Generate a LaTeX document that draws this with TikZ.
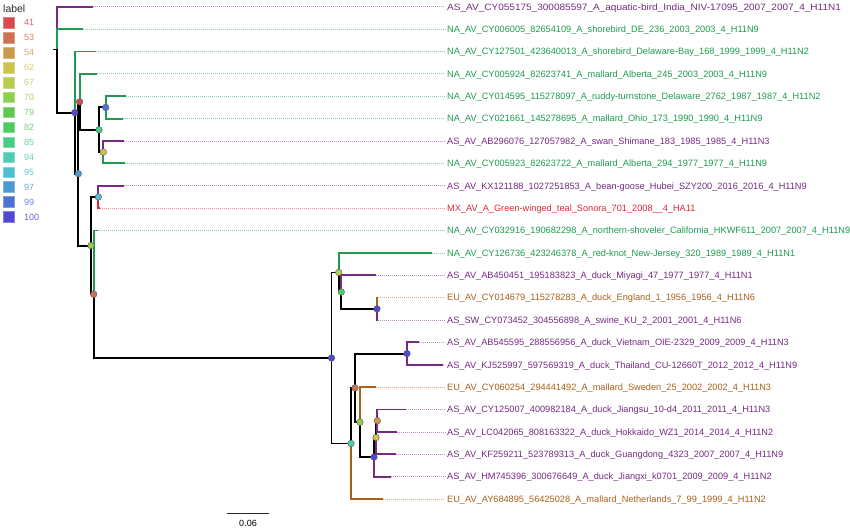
\documentclass[tikz,border=0pt]{standalone}
\usepackage{fontspec}
\setmainfont{Liberation Sans}
\definecolor{cpur}{RGB}{118,42,131}
\definecolor{cgrn}{RGB}{30,155,80}
\definecolor{cbrn}{RGB}{166,97,26}
\definecolor{cred}{RGB}{222,40,52}
\definecolor{c41}{RGB}{217,72,74}
\definecolor{c53}{RGB}{207,112,80}
\definecolor{c54}{RGB}{203,154,74}
\definecolor{c62}{RGB}{204,197,74}
\definecolor{c67}{RGB}{181,204,77}
\definecolor{c70}{RGB}{142,207,76}
\definecolor{c79}{RGB}{93,202,76}
\definecolor{c82}{RGB}{76,203,94}
\definecolor{c85}{RGB}{75,203,136}
\definecolor{c94}{RGB}{77,205,179}
\definecolor{c95}{RGB}{78,191,208}
\definecolor{c97}{RGB}{76,154,211}
\definecolor{c99}{RGB}{76,114,211}
\definecolor{c100}{RGB}{80,73,207}
\newcommand\tipline[6]{%
  \coordinate (#1) at (#3,#4);
  \node[lbl,text=#5] (t#1) at (447,#4) {#6};
  \draw[dotl,#5] (#1) -- (t#1.west);
  \draw[br,#5] (#2) |- (#1);
}
\begin{document}
\begin{tikzpicture}[x=1pt,y=-1pt,
  br/.style={line width=1.85pt},
  dotl/.style={line width=0.75pt,dash pattern=on 0.9pt off 1.1pt,draw opacity=0.5,shorten >=2pt},
  lbl/.style={anchor=west,inner sep=0pt,font=\fontsize{9.2}{10}\selectfont,text height=6.6pt,text depth=0pt},
  pt/.style={circle,inner sep=0pt,minimum size=6.6pt,draw=black!65,line width=0.4pt},
  key/.style={rectangle,inner sep=0pt,minimum size=10.6pt,line width=0.5pt},
  keytext/.style={anchor=west,inner sep=0pt,font=\fontsize{9}{10}\selectfont}]
\useasboundingbox (0,0) rectangle (850,531);
% internal nodes
\coordinate (r) at (57,49.45);
\coordinate (r0) at (53,49.45);
\coordinate (A) at (74.7,112.58);
\coordinate (C) at (78.3,173.7);
\coordinate (B) at (79.6,101.82);
\coordinate (E) at (99,129.79);
\coordinate (F) at (105.7,107.41);
\coordinate (G) at (103.3,152.17);
\coordinate (D) at (91,245.58);
\coordinate (H) at (98.3,196.93);
\coordinate (J) at (93.7,294.23);
\coordinate (K) at (331.5,357.96);
\coordinate (L) at (338.7,272.46);
\coordinate (N) at (341.3,292.05);
\coordinate (O) at (377,308.83);
\coordinate (M) at (351,443.46);
\coordinate (P) at (355,387.86);
\coordinate (Q) at (407,353.59);
\coordinate (R) at (360,422.13);
\coordinate (S) at (374,457.1);
\coordinate (T) at (376,437.52);
\coordinate (U) at (377.3,420.73);
% root stub
\draw[br,black] (r0) -- (r);
% tips and branches
\tipline{l1}{r}{93.3}{6.7}{cpur}{\scalebox{1.09}[1]{AS\_AV\_CY055175\_300085597\_A\_aquatic-bird\_India\_NIV-17095\_2007\_2007\_4\_H11N1}}
\tipline{l2}{r}{82.7}{29.08}{cgrn}{NA\_AV\_CY006005\_82654109\_A\_shorebird\_DE\_236\_2003\_2003\_4\_H11N9}
\draw[br,black] (r) |- (A);
\tipline{l3}{A}{95.7}{51.46}{cgrn}{NA\_AV\_CY127501\_423640013\_A\_shorebird\_Delaware-Bay\_168\_1999\_1999\_4\_H11N2}
\draw[br,black] (A) |- (C);
\draw[br,black] (C) |- (B);
\draw[br,black] (C) |- (D);
\tipline{l4}{B}{97.3}{73.84}{cgrn}{NA\_AV\_CY005924\_82623741\_A\_mallard\_Alberta\_245\_2003\_2003\_4\_H11N9}
\draw[br,black] (B) |- (E);
\draw[br,black] (E) |- (F);
\draw[br,black] (E) |- (G);
\tipline{l5}{F}{126}{96.22}{cgrn}{NA\_AV\_CY014595\_115278097\_A\_ruddy-turnstone\_Delaware\_2762\_1987\_1987\_4\_H11N2}
\tipline{l6}{F}{123.3}{118.6}{cgrn}{NA\_AV\_CY021661\_145278695\_A\_mallard\_Ohio\_173\_1990\_1990\_4\_H11N9}
\tipline{l7}{G}{123.5}{140.98}{cpur}{AS\_AV\_AB296076\_127057982\_A\_swan\_Shimane\_183\_1985\_1985\_4\_H11N3}
\tipline{l8}{G}{125}{163.36}{cgrn}{NA\_AV\_CY005923\_82623722\_A\_mallard\_Alberta\_294\_1977\_1977\_4\_H11N9}
\draw[br,black] (D) |- (H);
\draw[br,black] (D) |- (J);
\tipline{l9}{H}{123.5}{185.74}{cpur}{AS\_AV\_KX121188\_1027251853\_A\_bean-goose\_Hubei\_SZY200\_2016\_2016\_4\_H11N9}
\tipline{l10}{H}{100}{208.12}{cred}{MX\_AV\_A\_Green-winged\_teal\_Sonora\_701\_2008\_\_4\_HA11}
\tipline{l11}{J}{98.3}{230.5}{cgrn}{NA\_AV\_CY032916\_190682298\_A\_northern-shoveler\_California\_HKWF611\_2007\_2007\_4\_H11N9}
\draw[br,black] (J) |- (K);
\draw[br,black] (K) |- (L);
\draw[br,black] (K) |- (M);
\tipline{l12}{L}{432}{252.88}{cgrn}{NA\_AV\_CY126736\_423246378\_A\_red-knot\_New-Jersey\_320\_1989\_1989\_4\_H11N1}
\draw[br,black] (L) |- (N);
\tipline{l13}{N}{376}{275.26}{cpur}{AS\_AV\_AB450451\_195183823\_A\_duck\_Miyagi\_47\_1977\_1977\_4\_H11N1}
\draw[br,black] (N) |- (O);
\tipline{l14}{O}{378}{297.64}{cbrn}{EU\_AV\_CY014679\_115278283\_A\_duck\_England\_1\_1956\_1956\_4\_H11N6}
\tipline{l15}{O}{378}{320.02}{cpur}{AS\_SW\_CY073452\_304556898\_A\_swine\_KU\_2\_2001\_2001\_4\_H11N6}
\draw[br,black] (M) |- (P);
\draw[br,black] (P) |- (Q);
\draw[br,black] (P) |- (R);
\tipline{l16}{Q}{419}{342.4}{cpur}{AS\_AV\_AB545595\_288556956\_A\_duck\_Vietnam\_OIE-2329\_2009\_2009\_4\_H11N3}
\tipline{l17}{Q}{443}{364.78}{cpur}{AS\_AV\_KJ525997\_597569319\_A\_duck\_Thailand\_CU-12660T\_2012\_2012\_4\_H11N9}
\tipline{l18}{R}{376}{387.16}{cbrn}{EU\_AV\_CY060254\_294441492\_A\_mallard\_Sweden\_25\_2002\_2002\_4\_H11N3}
\draw[br,black] (R) |- (S);
\draw[br,black] (S) |- (T);
\draw[br,black] (T) |- (U);
\tipline{l19}{U}{406}{409.54}{cpur}{AS\_AV\_CY125007\_400982184\_A\_duck\_Jiangsu\_10-d4\_2011\_2011\_4\_H11N3}
\tipline{l20}{U}{396.7}{431.92}{cpur}{AS\_AV\_LC042065\_808163322\_A\_duck\_Hokkaido\_WZ1\_2014\_2014\_4\_H11N2}
\tipline{l21}{T}{396}{454.3}{cpur}{AS\_AV\_KF259211\_523789313\_A\_duck\_Guangdong\_4323\_2007\_2007\_4\_H11N9}
\tipline{l22}{S}{390.7}{476.68}{cpur}{AS\_AV\_HM745396\_300676649\_A\_duck\_Jiangxi\_k0701\_2009\_2009\_4\_H11N2}
\tipline{l23}{M}{383}{499.06}{cbrn}{EU\_AV\_AY684895\_56425028\_A\_mallard\_Netherlands\_7\_99\_1999\_4\_H11N2}
% support points
\node[pt,fill=c100] (pA) at (A) {};
\node[pt,fill=c41] (pB) at (B) {};
\node[pt,fill=c97] (pC) at (C) {};
\node[pt,fill=c85] (pE) at (E) {};
\node[pt,fill=c99] (pF) at (F) {};
\node[pt,fill=c62] (pG) at (G) {};
\node[pt,fill=c70] (pD) at (D) {};
\node[pt,fill=c95] (pH) at (H) {};
\node[pt,fill=c53] (pJ) at (J) {};
\node[pt,fill=c100] (pK) at (K) {};
\node[pt,fill=c67] (pL) at (L) {};
\node[pt,fill=c82] (pN) at (N) {};
\node[pt,fill=c100] (pO) at (O) {};
\node[pt,fill=c94] (pM) at (M) {};
\node[pt,fill=c53] (pP) at (P) {};
\node[pt,fill=c100] (pQ) at (Q) {};
\node[pt,fill=c70] (pR) at (R) {};
\node[pt,fill=c100] (pS) at (S) {};
\node[pt,fill=c62] (pT) at (T) {};
\node[pt,fill=c54] (pU) at (U) {};
% legend
\node[anchor=west,inner sep=0pt,font=\fontsize{10.4}{12}\selectfont,text=black!85] (ltitle) at (3,8.3) {label};
\foreach \v [count=\i] in {41,53,54,62,67,70,79,82,85,94,95,97,99,100}{
  \node[key,fill=c\v,draw=c\v!70!white] (k\v) at (9,{22.7+(\i-1)*14.94}) {};
  \node[keytext,text=c\v!85!white] (n\v) at (24,{22.7+(\i-1)*14.94}) {\v};
}
% scale bar
\coordinate (sb1) at (226.7,513.3);
\coordinate (sb2) at (269.3,513.3);
\draw[line width=1pt,black!85] (sb1) -- (sb2);
\node[inner sep=0pt,font=\fontsize{9}{10}\selectfont] (sbl) at (248,523.8) {0.06};
\end{tikzpicture}
\end{document}
